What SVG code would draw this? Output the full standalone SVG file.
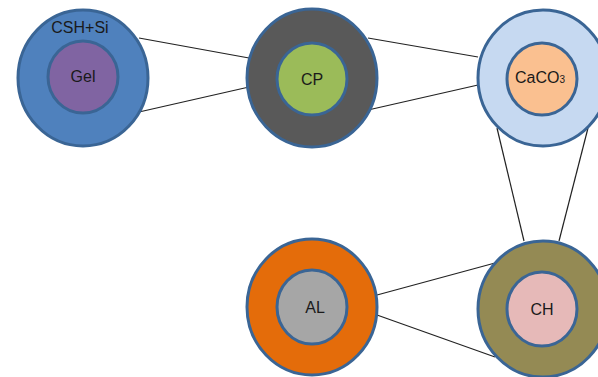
<svg xmlns="http://www.w3.org/2000/svg" width="598" height="377" viewBox="0 0 598 377">
<style>
.ring{stroke:#3A6595;stroke-width:3}
.lbl{font-family:"Liberation Sans",Arial,sans-serif;font-size:16px;fill:#1a1a1a;text-anchor:middle}
.edge{stroke:#222;stroke-width:1.2;fill:none}
</style>
<rect width="598" height="377" fill="#fff"/>
<g id="connectors">
<line class="edge" x1="139" y1="38" x2="249" y2="58"/>
<line class="edge" x1="139" y1="112" x2="249" y2="87"/>
<line class="edge" x1="368" y1="38" x2="478" y2="57"/>
<line class="edge" x1="368" y1="110" x2="478" y2="85"/>
<line class="edge" x1="497" y1="128" x2="524" y2="241"/>
<line class="edge" x1="588" y1="128" x2="559" y2="241"/>
<line class="edge" x1="377" y1="295" x2="495" y2="263"/>
<line class="edge" x1="377" y1="315" x2="495" y2="357"/>
</g>
<g id="csh">
<ellipse class="ring" cx="83" cy="78" rx="65" ry="68" fill="#4F81BD"/>
<ellipse class="ring" cx="83" cy="77" rx="35" ry="36" fill="#8064A2"/>
<text class="lbl" x="80" y="33">CSH+Si</text>
<text class="lbl" x="83" y="82">Gel</text>
</g>
<g id="cp">
<ellipse class="ring" cx="312" cy="78" rx="65" ry="69" fill="#595959"/>
<ellipse class="ring" cx="312" cy="79" rx="35" ry="36" fill="#9BBB59"/>
<text class="lbl" x="312" y="85">CP</text>
</g>
<g id="caco3">
<ellipse class="ring" cx="543" cy="78" rx="65" ry="68" fill="#C6D9F1"/>
<ellipse class="ring" cx="542" cy="79" rx="35" ry="36" fill="#FAC090"/>
<text class="lbl" x="540" y="83">CaCO<tspan style="font-size:10px">3</tspan></text>
</g>
<g id="al">
<ellipse class="ring" cx="312" cy="307" rx="65" ry="68" fill="#E46C0A"/>
<ellipse class="ring" cx="312" cy="307" rx="35" ry="37" fill="#A6A6A6"/>
<text class="lbl" x="315" y="313">AL</text>
</g>
<g id="ch">
<ellipse class="ring" cx="543" cy="309" rx="65" ry="68" fill="#948A54"/>
<ellipse class="ring" cx="542" cy="309" rx="35" ry="37" fill="#E6B9B8"/>
<text class="lbl" x="542" y="315">CH</text>
</g>
</svg>
